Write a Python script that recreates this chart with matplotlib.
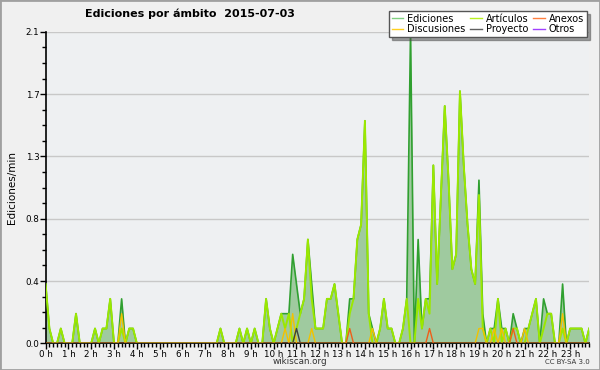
import numpy as np
import matplotlib
matplotlib.use("Agg")
import matplotlib.pyplot as plt
from matplotlib.lines import Line2D
from matplotlib.patches import Rectangle

# Ediciones por minuto, una muestra cada 10 minutos (144 muestras)
ediciones = [
    0.4, 0.1, 0, 0, 0.1, 0, 0, 0, 0.2, 0, 0, 0, 0, 0.1, 0, 0.1, 0.1, 0.3, 0, 0,
    0.3, 0, 0.1, 0.1, 0, 0, 0, 0, 0, 0, 0, 0, 0, 0, 0, 0, 0, 0, 0, 0,
    0, 0, 0, 0, 0, 0, 0.1, 0, 0, 0, 0, 0.1, 0, 0.1, 0, 0.1, 0, 0, 0.3, 0.1,
    0, 0.1, 0.2, 0.2, 0.2, 0.6, 0.4, 0.2, 0.3, 0.7, 0.4, 0.1, 0.1, 0.1, 0.3, 0.3, 0.4, 0.2, 0, 0,
    0.3, 0.3, 0.7, 0.8, 1.5, 0.2, 0.1, 0, 0.1, 0.3, 0.1, 0.1, 0, 0, 0.1, 0.3, 2.1, 0, 0.7, 0.1,
    0.3, 0.3, 1.2, 0.4, 1.0, 1.6, 1.1, 0.5, 0.6, 1.7, 1.2, 0.8, 0.5, 0.4, 1.1, 0.2, 0, 0.1, 0.1, 0.3,
    0.1, 0.1, 0, 0.2, 0.1, 0, 0.1, 0.1, 0.2, 0.3, 0, 0.3, 0.2, 0.2, 0, 0, 0.4, 0, 0.1, 0.1,
    0.1, 0.1, 0, 0.1,
]
articulos = [
    0.4, 0.1, 0, 0, 0.1, 0, 0, 0, 0.2, 0, 0, 0, 0, 0.1, 0, 0.1, 0.1, 0.3, 0, 0,
    0.1, 0, 0.1, 0.1, 0, 0, 0, 0, 0, 0, 0, 0, 0, 0, 0, 0, 0, 0, 0, 0,
    0, 0, 0, 0, 0, 0, 0.1, 0, 0, 0, 0, 0.1, 0, 0.1, 0, 0.1, 0, 0, 0.3, 0.1,
    0, 0.1, 0.2, 0.1, 0.2, 0, 0.1, 0.2, 0.3, 0.7, 0.3, 0.1, 0.1, 0.1, 0.3, 0.3, 0.4, 0.2, 0, 0,
    0.2, 0.3, 0.7, 0.8, 1.5, 0.2, 0, 0, 0.1, 0.3, 0.1, 0.1, 0, 0, 0.1, 0.3, 0, 0, 0.3, 0.1,
    0.3, 0.2, 1.2, 0.4, 1.0, 1.6, 1.1, 0.5, 0.6, 1.7, 1.2, 0.8, 0.5, 0.4, 1.0, 0.1, 0, 0.1, 0, 0.3,
    0, 0.1, 0, 0.1, 0.1, 0, 0, 0.1, 0.2, 0.3, 0, 0.1, 0.2, 0.2, 0, 0, 0.1, 0, 0.1, 0.1,
    0.1, 0.1, 0, 0.1,
]
n = len(ediciones)
discusiones = [0.0] * n
for i, v in [(20, 0.2), (63, 0.1), (65, 0.2), (70, 0.1), (86, 0.1), (114, 0.1),
             (115, 0.1), (118, 0.1), (120, 0.1), (126, 0.1), (136, 0.2)]:
    discusiones[i] = v
proyecto = [0.0] * n
proyecto[66] = 0.1
anexos = [0.0] * n
for i in [80, 101, 123]:
    anexos[i] = 0.1
otros = [0.0] * n

horas = ["%d h" % h for h in range(24)]
yticks = [0, 0.42, 0.84, 1.26, 1.68, 2.1]

x = np.arange(n)

fig = plt.figure(figsize=(6, 3.7), dpi=100, facecolor="#f0f0f0")
ax = fig.add_axes([0.076, 0.072, 0.906, 0.842])
ax.set_facecolor("#eef0f2")

# Ediciones: area rellena + linea
ax.fill_between(x, ediciones, color="#9fca9f", lw=0, zorder=2)
ax.plot(x, ediciones, color="#30a030", lw=1.2, zorder=3)
ax.plot(x, articulos, color="#9be800", lw=1.4, zorder=4)
ax.plot(x, discusiones, color="#f2c200", lw=1.0, zorder=5)
ax.plot(x, proyecto, color="#404040", lw=1.0, zorder=5)
ax.plot(x, anexos, color="#ee5f1a", lw=1.0, zorder=5)
ax.plot(x, otros, color="#a040ff", lw=1.0, zorder=1, alpha=0)

ax.set_xlim(0, n - 1)
ax.set_ylim(0, 2.1)
ax.set_xticks(np.arange(0, n, 6))
ax.set_xticklabels(horas)
ax.set_xticks(x, minor=True)
ax.set_yticks(yticks)
ax.set_yticklabels(["%.1f" % v for v in yticks])
ax.set_yticks(np.arange(0, 2.1, 0.105), minor=True)
ax.tick_params(axis="both", which="major", labelsize=6.3, length=4, width=1, pad=0.5)
ax.tick_params(axis="both", which="minor", length=3, width=1)
ax.grid(axis="y", color="#c8c8c8", lw=1)
ax.set_axisbelow(True)
for s in ["top", "right"]:
    ax.spines[s].set_visible(False)
for s in ["left", "bottom"]:
    ax.spines[s].set_linewidth(1.2)

ax.set_ylabel("Ediciones/min", fontsize=7.5, labelpad=6)

fig.text(85 / 600, 1 - 14 / 370, "Ediciones por ámbito  2015-07-03",
         fontsize=8, fontweight="bold", va="center", ha="left")
fig.text(300 / 600, 1 - 362 / 370, "wikiscan.org", fontsize=6.3, ha="center", va="center",
         color="#333333")
fig.text(590 / 600, 1 - 362 / 370, "CC BY-SA 3.0", fontsize=5, ha="right", va="center",
         color="#333333")

# Leyenda
handles = [
    Line2D([], [], color="#80d080", lw=1),
    Line2D([], [], color="#ffd020", lw=1),
    Line2D([], [], color="#b8f020", lw=1),
    Line2D([], [], color="#606060", lw=1),
    Line2D([], [], color="#ff7f3f", lw=1),
    Line2D([], [], color="#a040ff", lw=1),
]
labels = ["Ediciones", "Discusiones", "Artículos", "Proyecto", "Anexos", "Otros"]
leg = fig.legend(handles, labels, loc="upper right", bbox_to_anchor=(592 / 600, 1 - 6 / 370),
                 ncol=3, fontsize=7, handlelength=1.2, handletextpad=0.4,
                 columnspacing=0.5, labelspacing=0.05, borderpad=0.3,
                 fancybox=False, shadow=True, framealpha=1)
leg.get_frame().set_edgecolor("#555555")
leg.get_frame().set_linewidth(1)

# marco exterior
fig.patches.append(Rectangle((0, 0), 1, 1, transform=fig.transFigure, fill=False,
                             edgecolor="#a0a0a0", lw=2))

fig.savefig("out.png", dpi=100, facecolor=fig.get_facecolor())
